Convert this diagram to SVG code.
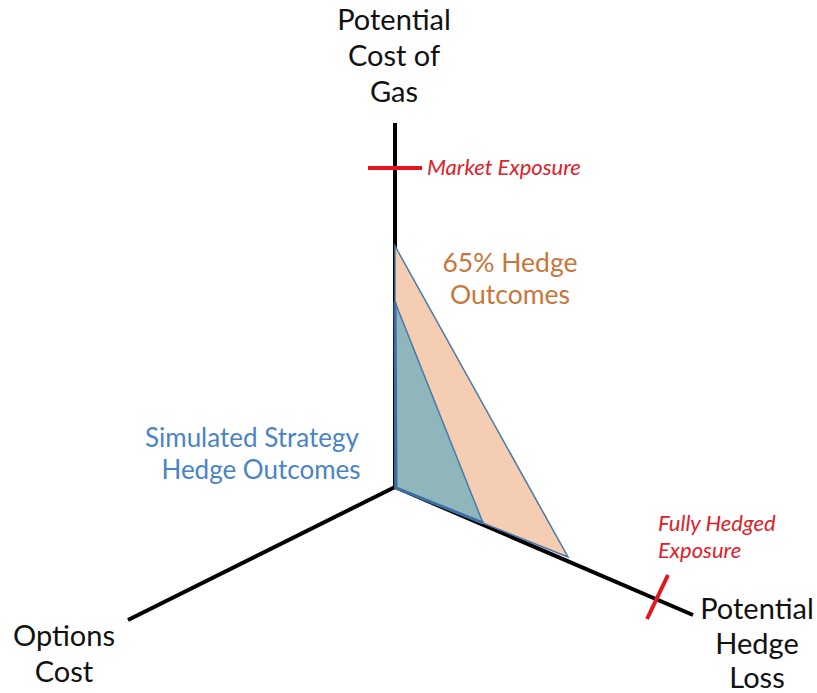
<svg xmlns="http://www.w3.org/2000/svg" width="817" height="693" viewBox="0 0 817 693">
<style>
.ax{stroke:#000;stroke-width:4;fill:none;stroke-linecap:butt}
.tick{stroke:#e8141c;stroke-width:4}
.lbl{font-family:Lato,"Open Sans",sans-serif;font-size:29px;fill:#111;text-anchor:middle}
.red{font-family:Lato,"Open Sans",sans-serif;font-style:italic;font-size:22px;fill:#e0202a}
.org{font-family:Lato,"Open Sans",sans-serif;font-size:26.5px;fill:#c8763a;text-anchor:middle}
.blu{font-family:Lato,"Open Sans",sans-serif;font-size:26px;fill:#4a84c4;text-anchor:middle}
</style>
<rect width="817" height="693" fill="#fff"/>
<g id="axes">
<line class="ax" x1="395" y1="123" x2="395" y2="488"/>
<line class="ax" x1="395" y1="487" x2="128" y2="620"/>
<line class="ax" x1="395" y1="487" x2="693" y2="615"/>
</g>
<g id="regions">
<polygon id="hedge65" points="395,246 568,557 395,488" fill="#f4cdb2" stroke="#4a78a8" stroke-width="1.5"/>
<polygon id="simulated" points="395,302 483,523 396,488" fill="#8fb6ba" stroke="#4a78a8" stroke-width="1.5"/>
<polyline points="395,302 396,488 483,523" fill="none" stroke="#3a6ea5" stroke-width="3"/>
</g>
<g id="ticks">
<line class="tick" x1="368" y1="168" x2="422" y2="168"/>
<line class="tick" x1="668" y1="575" x2="647" y2="619"/>
</g>
<g id="labels">
<text class="lbl" x="394" y="30">Potential</text>
<text class="lbl" x="394" y="66">Cost of</text>
<text class="lbl" x="394" y="102">Gas</text>
<text class="red" x="427" y="175">Market Exposure</text>
<text class="org" x="510" y="272">65% Hedge</text>
<text class="org" x="510" y="304">Outcomes</text>
<text class="blu" x="252" y="447">Simulated Strategy</text>
<text class="blu" x="261" y="479">Hedge Outcomes</text>
<text class="red" x="658" y="531">Fully Hedged</text>
<text class="red" x="658" y="558">Exposure</text>
<text class="lbl" x="757" y="619">Potential</text>
<text class="lbl" x="757" y="654">Hedge</text>
<text class="lbl" x="757" y="688">Loss</text>
<text class="lbl" x="64" y="646">Options</text>
<text class="lbl" x="64" y="682">Cost</text>
</g>
</svg>
